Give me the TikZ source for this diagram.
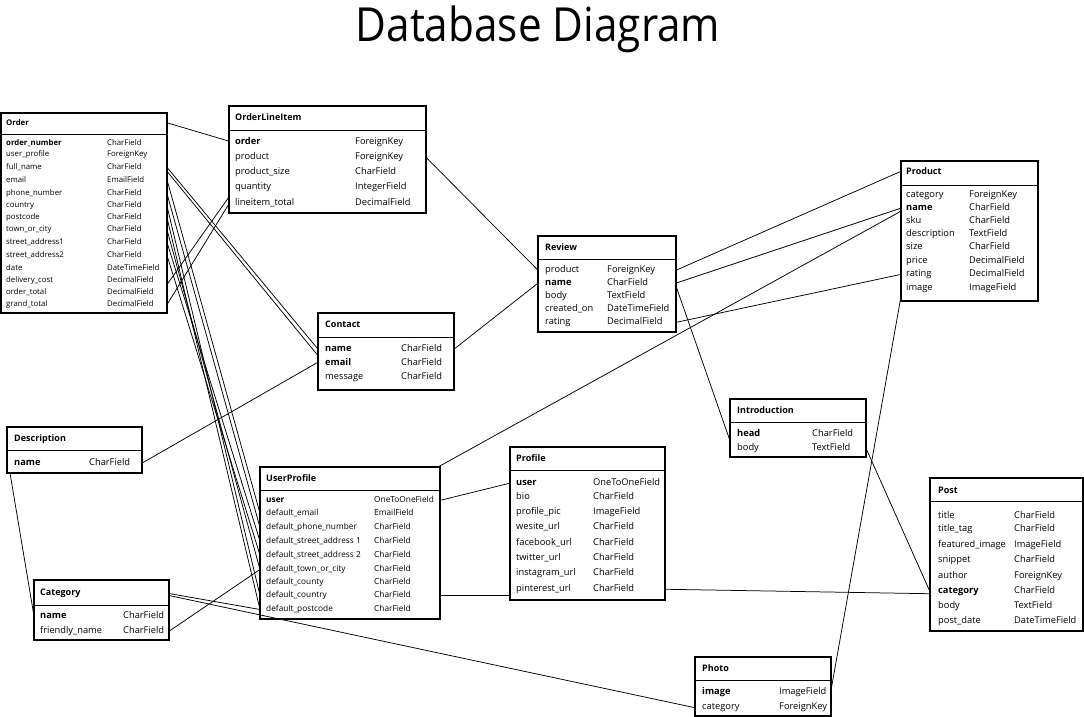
\documentclass[tikz,border=0pt]{standalone}
\usepackage{fontspec}
\setmainfont{Open Sans}
\newfontfamily\titlefont[FakeStretch=0.9]{Open Sans}
\usetikzlibrary{calc}
\tikzset{
 tbl/.style={draw, line width=1.1pt, inner sep=0pt, outer sep=0pt},
 sepline/.style={line width=0.8pt},
 hdr/.style={font=\fontsize{9}{10}\selectfont\bfseries, inner sep=0pt, anchor=mid west, yshift=-1pt},
 fld/.style={font=\fontsize{9.3}{10}\selectfont, inner sep=0pt, anchor=mid west, yshift=-1pt},
 fldb/.style={fld, font=\fontsize{9.3}{10}\selectfont\bfseries},
 ofld/.style={font=\fontsize{7.8}{9}\selectfont, inner sep=0pt, anchor=mid west, yshift=-1pt},
 ofldb/.style={ofld, font=\fontsize{7.8}{9}\selectfont\bfseries},
 ufld/.style={font=\fontsize{8.3}{9}\selectfont, inner sep=0pt, anchor=mid west, yshift=-1pt},
 ufldb/.style={ufld, font=\fontsize{8.3}{9}\selectfont\bfseries},
 conn/.style={line width=0.75pt},
}
\newcommand{\tbox}[6]{%
 \node[tbl, minimum width={#4-#2}, minimum height={#5-#3}] (#1) at ({(#2+#4)/2},{(#3+#5)/2}) {};
 \draw[sepline] (#2,#6) -- (#4,#6);}
\newcommand{\trow}[8]{\node[#7] (#1) at (#2,#4) {#5};\node[#8] (#1t) at (#3,#4) {#6};}
\begin{document}
\begin{tikzpicture}[x=1pt,y=-1pt]
\useasboundingbox (0,0) rectangle (1084,717);
\node[font=\titlefont\fontsize{47}{52}\selectfont, inner sep=0pt, anchor=base] (title) at (538,42) {Database Diagram};

% Order
\tbox{ord}{1}{113}{167}{313}{134}
\node[hdr, font=\fontsize{7.8}{9}\selectfont\bfseries] (ordH) at (6,122) {Order};
\trow{ord1}{6}{107}{142}{order\_number}{CharField}{ofldb}{ofld}
\trow{ord2}{6}{107}{153}{user\_profile}{ForeignKey}{ofld}{ofld}
\trow{ord3}{6}{107}{166}{full\_name}{CharField}{ofld}{ofld}
\trow{ord4}{6}{107}{179}{email}{EmailField}{ofld}{ofld}
\trow{ord5}{6}{107}{192}{phone\_number}{CharField}{ofld}{ofld}
\trow{ord6}{6}{107}{204}{country}{CharField}{ofld}{ofld}
\trow{ord7}{6}{107}{216}{postcode}{CharField}{ofld}{ofld}
\trow{ord8}{6}{107}{228}{town\_or\_city}{CharField}{ofld}{ofld}
\trow{ord9}{6}{107}{241}{street\_address1}{CharField}{ofld}{ofld}
\trow{ord10}{6}{107}{254}{street\_address2}{CharField}{ofld}{ofld}
\trow{ord11}{6}{107}{267}{date}{DateTimeField}{ofld}{ofld}
\trow{ord12}{6}{107}{279}{delivery\_cost}{DecimalField}{ofld}{ofld}
\trow{ord13}{6}{107}{291}{order\_total}{DecimalField}{ofld}{ofld}
\trow{ord14}{6}{107}{303}{grand\_total}{DecimalField}{ofld}{ofld}

% OrderLineItem
\tbox{oli}{229}{106}{426}{213}{130}
\node[hdr] (oliH) at (235,117) {OrderLineItem};
\trow{oli1}{235}{355}{141}{order}{ForeignKey}{fldb}{fld}
\trow{oli2}{235}{355}{156}{product}{ForeignKey}{fld}{fld}
\trow{oli3}{235}{355}{171}{product\_size}{CharField}{fld}{fld}
\trow{oli4}{235}{355}{186}{quantity}{IntegerField}{fld}{fld}
\trow{oli5}{235}{355}{202}{lineitem\_total}{DecimalField}{fld}{fld}

% Product
\tbox{prod}{901}{161}{1038}{301}{185}
\node[hdr] (prodH) at (906,171) {Product};
\trow{prod1}{906}{969}{194}{category}{ForeignKey}{fld}{fld}
\trow{prod2}{906}{969}{207}{name}{CharField}{fldb}{fld}
\trow{prod3}{906}{969}{220}{sku}{CharField}{fld}{fld}
\trow{prod4}{906}{969}{233}{description}{TextField}{fld}{fld}
\trow{prod5}{906}{969}{246}{size}{CharField}{fld}{fld}
\trow{prod6}{906}{969}{260}{price}{DecimalField}{fld}{fld}
\trow{prod7}{906}{969}{273}{rating}{DecimalField}{fld}{fld}
\trow{prod8}{906}{969}{287}{image}{ImageField}{fld}{fld}

% Review
\tbox{rev}{538}{236}{676}{332}{259}
\node[hdr] (revH) at (545,247) {Review};
\trow{rev1}{545}{607}{269}{product}{ForeignKey}{fld}{fld}
\trow{rev2}{545}{607}{282}{name}{CharField}{fldb}{fld}
\trow{rev3}{545}{607}{295}{body}{TextField}{fld}{fld}
\trow{rev4}{545}{607}{308}{created\_on}{DateTimeField}{fld}{fld}
\trow{rev5}{545}{607}{321}{rating}{DecimalField}{fld}{fld}

% Contact
\tbox{con}{318}{313}{454}{390}{337}
\node[hdr] (conH) at (325,324) {Contact};
\trow{con1}{325}{401}{348}{name}{CharField}{fldb}{fld}
\trow{con2}{325}{401}{362}{email}{CharField}{fldb}{fld}
\trow{con3}{325}{401}{376}{message}{CharField}{fld}{fld}

% Description
\tbox{des}{7}{427}{142}{473}{450}
\node[hdr] (desH) at (14,438) {Description};
\trow{des1}{14}{89}{462}{name}{CharField}{fldb}{fld}

% UserProfile
\tbox{up}{260}{467}{440}{619}{490}
\node[hdr] (upH) at (266,478) {UserProfile};
\trow{up1}{266}{374}{499}{user}{OneToOneField}{ufldb}{ufld}
\trow{up2}{266}{374}{512}{default\_email}{EmailField}{ufld}{ufld}
\trow{up3}{266}{374}{526}{default\_phone\_number}{CharField}{ufld}{ufld}
\trow{up4}{266}{374}{540}{default\_street\_address 1}{CharField}{ufld}{ufld}
\trow{up5}{266}{374}{554}{default\_street\_address 2}{CharField}{ufld}{ufld}
\trow{up6}{266}{374}{568}{default\_town\_or\_city}{CharField}{ufld}{ufld}
\trow{up7}{266}{374}{581}{default\_county}{CharField}{ufld}{ufld}
\trow{up8}{266}{374}{594}{default\_country}{CharField}{ufld}{ufld}
\trow{up9}{266}{374}{608}{default\_postcode}{CharField}{ufld}{ufld}

% Profile
\tbox{prof}{510}{447}{665}{600}{470}
\node[hdr] (profH) at (516,458) {Profile};
\trow{prof1}{516}{593}{482}{user}{OneToOneField}{fldb}{fld}
\trow{prof2}{516}{593}{496}{bio}{CharField}{fld}{fld}
\trow{prof3}{516}{593}{511}{profile\_pic}{ImageField}{fld}{fld}
\trow{prof4}{516}{593}{526}{wesite\_url}{CharField}{fld}{fld}
\trow{prof5}{516}{593}{542}{facebook\_url}{CharField}{fld}{fld}
\trow{prof6}{516}{593}{557}{twitter\_url}{CharField}{fld}{fld}
\trow{prof7}{516}{593}{572}{instagram\_url}{CharField}{fld}{fld}
\trow{prof8}{516}{593}{588}{pinterest\_url}{CharField}{fld}{fld}

% Category
\tbox{cat}{34}{580}{169}{640}{605}
\node[hdr] (catH) at (40,592) {Category};
\trow{cat1}{40}{123}{615}{name}{CharField}{fldb}{fld}
\trow{cat2}{40}{123}{630}{friendly\_name}{CharField}{fld}{fld}

% Introduction
\tbox{intro}{730}{399}{866}{457}{422}
\node[hdr] (introH) at (737,410) {Introduction};
\trow{intro1}{737}{812}{433}{head}{CharField}{fldb}{fld}
\trow{intro2}{737}{812}{447}{body}{TextField}{fld}{fld}

% Post
\tbox{post}{930}{478}{1083}{631}{501}
\node[hdr] (postH) at (938,490) {Post};
\trow{post1}{938}{1014}{515}{title}{CharField}{fld}{fld}
\trow{post2}{938}{1014}{528}{title\_tag}{CharField}{fld}{fld}
\trow{post3}{938}{1014}{544}{featured\_image}{ImageField}{fld}{fld}
\trow{post4}{938}{1014}{559}{snippet}{CharField}{fld}{fld}
\trow{post5}{938}{1014}{575}{author}{ForeignKey}{fld}{fld}
\trow{post6}{938}{1014}{590}{category}{CharField}{fldb}{fld}
\trow{post7}{938}{1014}{605}{body}{TextField}{fld}{fld}
\trow{post8}{938}{1014}{620}{post\_date}{DateTimeField}{fld}{fld}

% Photo
\tbox{photo}{695}{657}{831}{716}{680}
\node[hdr] (photoH) at (702,668) {Photo};
\trow{photo1}{702}{779}{691}{image}{ImageField}{fldb}{fld}
\trow{photo2}{702}{779}{706}{category}{ForeignKey}{fld}{fld}

% Connectors
\draw[conn] (ord.east |- ordH) -- (oli.west |- oli1);
\draw[conn] (oli.east |- oli2) -- (rev.west |- rev1);
\draw[conn] (ord.east |- ord3) -- (con.west |- con1);
\draw[conn] ([yshift=-4pt]ord.east |- ord3) -- ($(con.west |- con1)!0.5!(con.west |- con2)$);
\draw[conn] (ord.east |- ord4) -- (up.west |- up2);
\draw[conn] (ord.east |- ord5) -- (up.west |- up3);
\draw[conn] (ord.east |- ord6) -- (up.west |- up8);
\draw[conn] (ord.east |- ord7) -- (up.west |- up9);
\draw[conn] (ord.east |- ord8) -- (up.west |- up6);
\draw[conn] (ord.east |- ord9) -- (up.west |- up4);
\draw[conn] (ord.east |- ord10) -- (up.west |- up5);
\draw[conn] ([yshift=-4pt]ord.east |- ord12) -- ([yshift=6pt]oli.west |- oli5);
\draw[conn] (ord.east |- ord14) -- ([yshift=-1pt]oli.west |- oli5);
\draw[conn] (con.west |- con2) -- (des.east |- des1);
\draw[conn] (con.east |- con1) -- (rev.west |- rev2);
\draw[conn] (rev.east |- rev1) -- (prod.west |- prodH);
\draw[conn] (rev.east |- rev2) -- (prod.west |- prod2);
\draw[conn] (rev.east |- rev5) -- (prod.west |- prod7);
\draw[conn] ([xshift=-2pt]up.north east) -- ([yshift=-3pt]prod.west |- prod2);
\draw[conn] ([yshift=-3pt]rev.east |- rev2) -- ($(intro.west |- intro1)!0.5!(intro.west |- intro2)$);
\draw[conn] (intro.east |- intro2) -- (post.west |- post6);
\draw[conn] (prof.east |- prof8) -- ([yshift=-2pt]post.west |- post6);
\draw[conn] (up.east |- up1) -- (prof.west |- prof1);
\draw[conn] (up.east |- up8) -- (prof.west |- up8);
\draw[conn] (cat.east |- catH) -- (up.west |- up9);
\draw[conn] ([yshift=-2pt]cat.east |- catH) -- (photo.west |- photo2);
\draw[conn] (cat.east |- cat2) -- (up.west |- up6);
\draw[conn] ([xshift=3pt]des.south west) -- (cat.west |- cat1);
\draw[conn] ([yshift=2pt]photo.east |- photo1) -- ([yshift=-8pt]prod.west |- prod8);
\end{tikzpicture}
\end{document}
